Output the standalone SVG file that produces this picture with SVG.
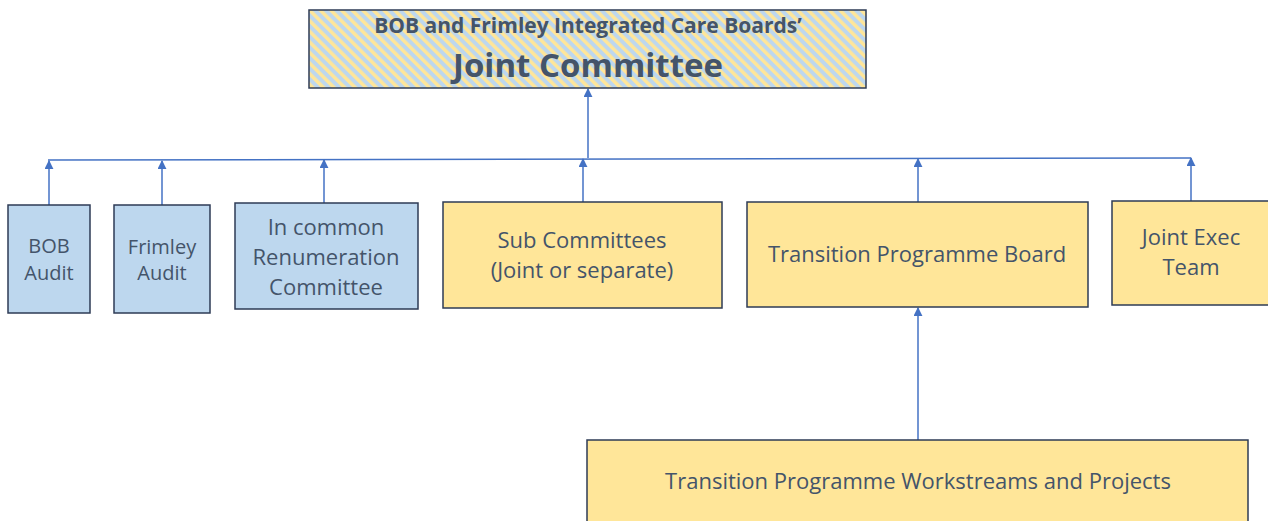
<svg xmlns="http://www.w3.org/2000/svg" width="1268" height="521" viewBox="0 0 1268 521">
  <defs>
    <pattern id="stripes" patternUnits="userSpaceOnUse" width="7.5" height="7.5" patternTransform="rotate(-45)">
      <rect width="7.5" height="7.5" fill="#BDD7EE"/>
      <rect width="3.5" height="7.5" fill="#FFE699"/>
    </pattern>
    <marker id="arrow" viewBox="0 0 10 10" refX="9" refY="5" markerWidth="9" markerHeight="9" markerUnits="userSpaceOnUse" orient="auto">
      <path d="M0,0 L10,5 L0,10 z" fill="#4472C4"/>
    </marker>
  </defs>
  <style>
    .box { stroke: #2E3B55; stroke-width: 1.5; }
    .blue { fill: #BDD7EE; }
    .yellow { fill: #FFE699; }
    .lbl { font-family: "Open Sans", "Liberation Sans", sans-serif; font-size: 22px; fill: #44546A; text-anchor: middle; }
    .sm { font-size: 20px; }
    .title { font-family: "Open Sans", "Liberation Sans", sans-serif; font-weight: bold; fill: #44546A; text-anchor: middle; }
    .conn { stroke: #4472C4; stroke-width: 1.5; fill: none; }
  </style>
  <rect width="1268" height="521" fill="#FFFFFF"/>

  <g id="connectors">
    <line class="conn" x1="48" y1="160" x2="1191" y2="158"/>
    <line class="conn" x1="588" y1="158" x2="588" y2="89" marker-end="url(#arrow)"/>
    <line class="conn" x1="49" y1="205" x2="49" y2="161" marker-end="url(#arrow)"/>
    <line class="conn" x1="162" y1="205" x2="162" y2="161" marker-end="url(#arrow)"/>
    <line class="conn" x1="324" y1="203" x2="324" y2="160" marker-end="url(#arrow)"/>
    <line class="conn" x1="583" y1="202" x2="583" y2="159" marker-end="url(#arrow)"/>
    <line class="conn" x1="918" y1="202" x2="918" y2="159" marker-end="url(#arrow)"/>
    <line class="conn" x1="1191" y1="201" x2="1191" y2="158" marker-end="url(#arrow)"/>
    <line class="conn" x1="918" y1="440" x2="918" y2="308" marker-end="url(#arrow)"/>
  </g>

  <g id="joint-committee">
    <rect class="box" x="309" y="10" width="557" height="78" fill="url(#stripes)"/>
    <text class="title" x="588" y="33" font-size="21">BOB and Frimley Integrated Care Boards’</text>
    <text class="title" x="588" y="77" font-size="33">Joint Committee</text>
  </g>

  <g id="bob-audit">
    <rect class="box blue" x="8" y="205" width="82" height="108"/>
    <text class="lbl sm" x="49" y="253">BOB</text>
    <text class="lbl sm" x="49" y="280">Audit</text>
  </g>

  <g id="frimley-audit">
    <rect class="box blue" x="114" y="205" width="96" height="108"/>
    <text class="lbl sm" x="162" y="254">Frimley</text>
    <text class="lbl sm" x="162" y="280">Audit</text>
  </g>

  <g id="remuneration">
    <rect class="box blue" x="235" y="203" width="183" height="106"/>
    <text class="lbl" x="326" y="235">In common</text>
    <text class="lbl" x="326" y="265">Renumeration</text>
    <text class="lbl" x="326" y="295">Committee</text>
  </g>

  <g id="sub-committees">
    <rect class="box yellow" x="443" y="202" width="279" height="106"/>
    <text class="lbl" x="582" y="248">Sub Committees</text>
    <text class="lbl" x="582" y="278">(Joint or separate)</text>
  </g>

  <g id="transition-board">
    <rect class="box yellow" x="747" y="202" width="341" height="105"/>
    <text class="lbl" x="917" y="262">Transition Programme Board</text>
  </g>

  <g id="joint-exec">
    <rect class="box yellow" x="1112" y="201" width="160" height="104"/>
    <text class="lbl" x="1191" y="245">Joint Exec</text>
    <text class="lbl" x="1191" y="275">Team</text>
  </g>

  <g id="workstreams">
    <rect class="box yellow" x="587" y="440" width="661" height="90"/>
    <text class="lbl" x="918" y="489">Transition Programme Workstreams and Projects</text>
  </g>
</svg>
